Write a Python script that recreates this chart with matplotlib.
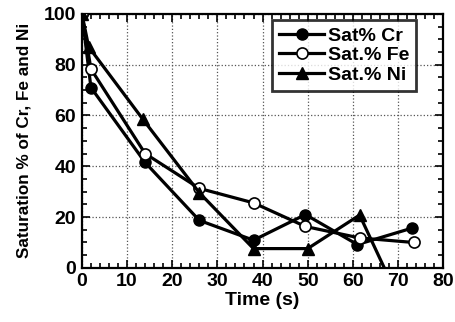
import matplotlib
matplotlib.use("Agg")
import matplotlib.pyplot as plt
from matplotlib.ticker import MultipleLocator

plt.rcParams['font.family'] = ['Liberation Sans', 'DejaVu Sans']
plt.rcParams['font.weight'] = 'bold'

time_cr = [0, 2, 14, 26, 38, 49.5, 61, 73]
sat_cr = [100, 71, 41.5, 18.7, 10.9, 21, 9.2, 15.6]
time_fe = [0, 2, 14, 26, 38, 49.5, 61.5, 73.5]
sat_fe = [100, 78.3, 45, 31.3, 25.6, 16.3, 11.8, 10]
time_ni = [0, 1.5, 13.5, 26, 38, 50, 61.5, 73]
sat_ni = [100, 87, 58.5, 29.6, 7.6, 7.6, 20.8, -23]

fig = plt.figure(figsize=(4.55, 3.22), dpi=100)
ax = fig.add_axes([0.180, 0.168, 0.794, 0.789])

lw = 2.3
ax.plot(time_cr, sat_cr, color='black', lw=lw, marker='o', ms=8,
        mfc='black', mec='black', label='Sat% Cr', zorder=3)
ax.plot(time_fe, sat_fe, color='black', lw=lw, marker='o', ms=8,
        mfc='white', mec='black', mew=1.2, label='Sat.% Fe', zorder=3)
ax.plot(time_ni, sat_ni, color='black', lw=lw, marker='^', ms=8,
        mfc='black', mec='black', label='Sat.% Ni', zorder=3)

ax.set_xlim(0, 80)
ax.set_ylim(0, 100)
ax.xaxis.set_major_locator(MultipleLocator(10))
ax.xaxis.set_minor_locator(MultipleLocator(2))
ax.yaxis.set_major_locator(MultipleLocator(20))
ax.yaxis.set_minor_locator(MultipleLocator(5))
ax.tick_params(which='both', direction='in', top=True, right=True,
               labelsize=14, width=1.2)
ax.tick_params(which='major', length=6, pad=4)
ax.tick_params(which='minor', length=3.5)
for lab in ax.get_xticklabels() + ax.get_yticklabels():
    lab.set_fontweight('bold')
ax.grid(True, which='major', ls=':', color='#555555', lw=0.9)
for s in ax.spines.values():
    s.set_linewidth(1.6)

ax.set_xlabel('Time (s)', fontsize=14, fontweight='bold', labelpad=1)
ax.set_ylabel('Saturation % of Cr, Fe and Ni', fontsize=12.3,
              fontweight='bold', labelpad=9)

leg = ax.legend(loc='upper right', bbox_to_anchor=(0.925, 0.975),
                fontsize=14, frameon=True, fancybox=False,
                edgecolor='black', handlelength=2.3, handletextpad=0.2,
                borderpad=0.35, labelspacing=0.1, borderaxespad=0)
leg.get_frame().set_linewidth(2)
for t in leg.get_texts():
    t.set_fontweight('bold')

fig.savefig('out.png', dpi=100)
